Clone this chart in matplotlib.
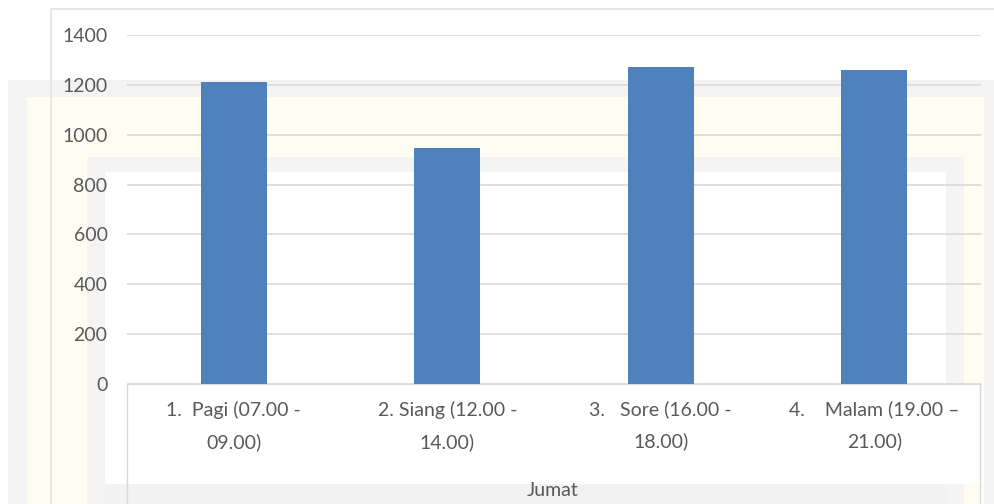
import matplotlib
matplotlib.use("Agg")
import matplotlib.pyplot as plt
from matplotlib.patches import Rectangle

# data
categories = [
    "1.  Pagi (07.00 -\n09.00)",
    "2. Siang (12.00 -\n14.00)",
    "3.   Sore (16.00 -\n18.00)",
    "4.    Malam (19.00 \u2013\n21.00)",
]
values = [1210, 945, 1272, 1258]
y_ticks = [0, 200, 400, 600, 800, 1000, 1200, 1400]
group_label = "Jumat"

W, H = 994, 504
BAR = "#4f81bd"
GRID = "#d9d9d9"
TEXT = "#595959"

plt.rcParams["font.family"] = ["Lato", "DejaVu Sans"]


def px_rect(x0, y0, x1, y1, **kw):
    return Rectangle((x0 / W, 1 - y1 / H), (x1 - x0) / W, (y1 - y0) / H,
                     transform=fig.transFigure, **kw)


fig = plt.figure(figsize=(W / 100, H / 100), dpi=100)

# faint watermark frames in the background
for (x0, y0, x1, y1, c) in [
    (8, 80, 994, 504, "#f3f3f3"),
    (27, 97, 984, 504, "#fffcf2"),
    (87, 157, 964, 504, "#f4f4f4"),
    (105, 172, 946, 504, "#ffffff"),
    (105, 484, 946, 504, "#f2f2f2"),
]:
    fig.add_artist(px_rect(x0, y0, x1, y1, facecolor=c, edgecolor="none", zorder=-10))

# chart border
fig.add_artist(px_rect(51, 9, 1010, 520, facecolor="none", edgecolor="#e3e3e3",
                       lw=1.2, zorder=-5))
# category box below the axis (white, side lines only)
fig.add_artist(px_rect(127, 385, 980, 484, facecolor="white", edgecolor="none",
                       zorder=-4))
for xe in (127, 980):
    fig.add_artist(plt.Line2D([xe / W, xe / W], [1 - 385 / H, 0],
                              transform=fig.transFigure, color=GRID, lw=1, zorder=-3))

ax = fig.add_axes([127 / W, 1 - 384 / H, (981 - 127) / W, (384 - 35) / H])
ax.set_facecolor("none")

x = list(range(len(categories)))
ax.bar(x, values, width=0.31, color=BAR, zorder=3)

ax.set_xlim(-0.5, len(categories) - 0.5)
ax.set_ylim(0, 1400)
ax.set_yticks(y_ticks)
ax.set_yticklabels([str(v) for v in y_ticks], fontsize=14, color=TEXT)
ax.set_xticks(x)
ax.set_xticklabels(categories, fontsize=14, color=TEXT, linespacing=1.95)
ax.tick_params(axis="both", length=0)
ax.tick_params(axis="y", pad=14)
ax.tick_params(axis="x", pad=12)

ax.grid(axis="y", color=GRID, lw=1.2, zorder=0)
for side in ["top", "right", "left"]:
    ax.spines[side].set_visible(False)
ax.spines["bottom"].set_color(GRID)

fig.text(553 / W, 1 - 491 / H, group_label, fontsize=14, color=TEXT,
         ha="center", va="center")

fig.savefig("out.png", dpi=100)
